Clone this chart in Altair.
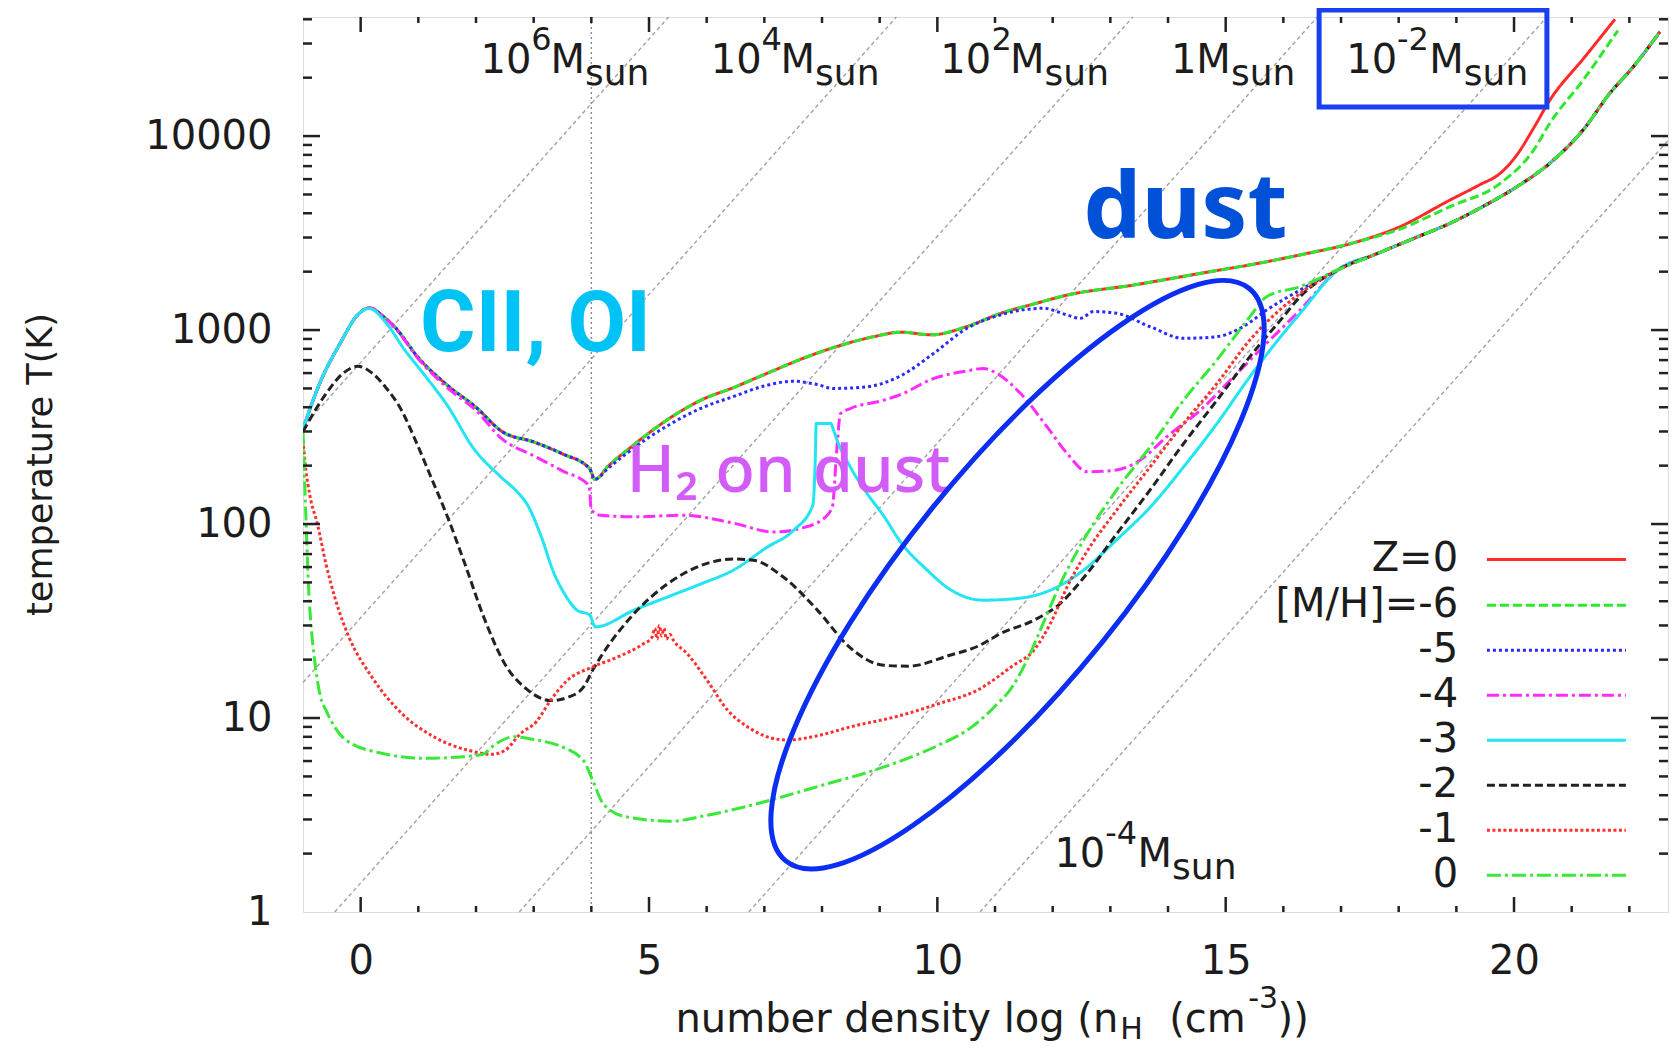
import altair as alt
import pandas as pd

# ---------------- axes ranges ----------------
XMIN, XMAX = -1.0, 22.67
YMIN, YMAX = 1.0, 41100.0

# ---------------- series styling ----------------
SERIES = ["Z=0", "[M/H]=-6", "-5", "-4", "-3", "-2", "-1", "0"]
COLORS = ["#ff2a2a", "#2ee82e", "#2b2bff", "#ff2cff", "#22e4f2", "#222222", "#ff3030", "#3ae83a"]
DASHES = [[1, 0], [9, 4], [3, 3], [12, 4, 3, 4], [1, 0], [8, 4], [3, 2.5], [14, 4, 3, 4]]
WIDTHS = [3, 3, 3, 3, 3.5, 3.5, 2.5, 3]

# ---------------- curve data (log n_H, T) ----------------
LOWER_X = [16.95, 17.6, 18.3, 18.89, 19.5, 20.05, 20.62, 21.2, 21.66, 22.07, 22.53]
LOWER_T = [2046, 2460, 3000, 3550, 4400, 5480, 7240, 10770, 16600, 22800, 34500]

Z0_X = [-1.0, -0.7, -0.35, -0.05, 0.15, 0.4, 0.6, 1.0, 1.5, 2.0, 2.45, 3.0, 3.5, 3.97, 4.06, 4.3, 4.62,
        5.0, 5.35, 5.9, 6.5, 7.0, 7.7, 8.3, 8.9, 9.36, 9.9, 10.5, 11.1, 11.7, 12.25, 13.4, 14.56,
        15.71, 16.29, 17.26, 18.0, 18.89, 19.4, 19.76, 20.05, 20.34, 20.62, 21.2, 21.75]
Z0_T = [310, 540, 860, 1200, 1300, 1170, 1030, 720, 520, 400, 300, 265, 230, 193, 170, 200, 240,
        295, 350, 435, 510, 590, 720, 830, 925, 975, 945, 1040, 1220, 1370, 1514, 1706, 1960,
        2250, 2440, 2840, 3390, 4680, 5600, 6430, 8000, 11000, 15300, 25000, 40000]

M6_X = [-1.0, -0.7, -0.35, -0.05, 0.15, 0.4, 0.6, 1.0, 1.5, 2.0, 2.45, 3.0, 3.5, 3.97, 4.06, 4.3, 4.62,
        5.0, 5.35, 5.9, 6.5, 7.0, 7.7, 8.3, 8.9, 9.36, 9.9, 10.5, 11.1, 11.7, 12.25, 13.4, 14.56,
        15.71, 16.29, 17.26, 18.0, 18.89, 19.76, 20.34, 20.62, 21.2, 21.8]
M6_T = [310, 540, 860, 1200, 1300, 1170, 1030, 720, 520, 400, 300, 265, 230, 193, 170, 200, 240,
        295, 350, 435, 510, 590, 720, 830, 925, 975, 945, 1040, 1220, 1370, 1514, 1706, 1960,
        2250, 2440, 2840, 3300, 4330, 5700, 8470, 11640, 19460, 35000]

M5_X = [-1.0, -0.7, -0.35, -0.05, 0.15, 0.4, 0.6, 1.0, 1.5, 2.0, 2.45, 3.0, 3.5, 3.97, 4.06, 4.3, 4.62,
        5.0, 5.35, 5.9, 6.47, 7.0, 7.5, 7.9, 8.2, 8.78, 9.36, 9.94, 10.51, 11.09, 11.84, 12.25,
        12.48, 12.71, 13.11, 13.69, 14.27, 14.85, 15.3, 15.71, 16.29]
M5_T = [310, 540, 860, 1200, 1300, 1170, 1030, 720, 520, 400, 300, 265, 230, 193, 170, 195, 232,
        280, 325, 395, 455, 515, 545, 525, 500, 510, 580, 760, 1020, 1196, 1295, 1196,
        1150, 1245, 1220, 1040, 906, 925, 1040, 1268, 1607]

M4_X = [-1.0, -0.7, -0.35, -0.05, 0.15, 0.4, 0.6, 1.0, 1.5, 2.0, 2.45, 3.0, 3.5, 3.96, 4.0, 4.16,
        4.74, 5.6, 6.47, 7.16, 7.63, 8.05, 8.18, 8.26, 8.32, 8.49, 9.07, 9.36, 9.94, 10.5, 10.8,
        11.03, 11.44, 11.9, 12.25, 12.6, 13.11, 13.52, 13.98, 14.56, 15.14, 15.71, 16.29]
M4_T = [310, 540, 860, 1200, 1300, 1170, 1020, 710, 505, 385, 275, 225, 188, 158, 118, 111,
        109, 111, 101, 91, 95, 108, 123, 250, 371, 394, 435, 465, 563, 615, 634,
        598, 472, 318, 231, 186, 190, 214, 282, 386, 575, 855, 1268]

M3_X = [-1.0, -0.7, -0.35, -0.05, 0.15, 0.45, 0.75, 1.1, 1.5, 1.96, 2.43, 2.7, 2.89, 3.12, 3.35,
        3.55, 3.75, 3.97, 4.07, 4.74, 5.315, 5.89, 6.47, 7.05, 7.51, 7.84, 7.88, 7.9, 8.15, 8.2,
        8.26, 8.49, 8.78, 9.07, 9.36, 9.82, 10.22, 10.8, 11.38, 11.96, 12.54, 13.11, 13.69,
        14.27, 14.85, 15.42, 16.0, 16.29]
M3_T = [310, 540, 860, 1200, 1290, 1080, 800, 590, 410, 245, 175, 148, 126, 88, 56,
        43, 36, 34, 29.5, 36, 42, 49, 58, 76, 93, 125, 200, 330, 330, 305,
        271, 197, 144, 110, 81, 58, 46, 40.5, 41.3, 45.6, 58, 83, 122,
        197, 330, 575, 961, 1218]

M2_X = [-1.0, -0.6, -0.3, -0.05, 0.2, 0.45, 0.7, 0.95, 1.2, 1.5, 1.81, 2.12, 2.5, 2.89, 3.3, 3.6,
        3.87, 4.02, 4.16, 4.74, 5.315, 5.89, 6.47, 6.81, 7.34, 7.92, 8.49, 9.07, 9.5, 10.2, 10.71,
        11.09, 11.67, 12.13, 12.54, 13.11, 13.69, 14.27, 14.85, 15.42, 16.0, 16.29]
M2_T = [300, 470, 600, 650, 600, 500, 390, 270, 180, 110, 62, 34, 19, 14, 12.3, 12.8,
        14.5, 17.6, 20.6, 34.5, 49, 61, 66, 65, 53, 36, 23, 18.7, 18.5, 21, 23.5,
        27.2, 31.9, 38.9, 53, 89, 150, 260, 435, 729, 1172, 1486]

M1_X = [-1.0, -0.95, -0.88, -0.75, -0.6, -0.45, -0.2, 0.18, 0.72, 1.27, 1.88, 2.27, 2.5, 2.77,
        3.05, 3.29, 3.58, 4.016, 4.45, 4.91, 5.05, 5.1, 5.14, 5.18, 5.22, 5.26, 5.3, 5.36, 5.43,
        5.66, 6.01, 6.36, 6.71, 7.05, 7.39, 7.92, 8.49, 9.36, 10.0, 10.71, 11.31, 11.67, 11.96,
        12.25, 12.54, 13.11, 13.69, 14.27, 14.85, 15.42, 16.0, 16.3]
M1_T = [270, 190, 140, 100, 62, 42, 26, 16.5, 10.5, 8.0, 6.8, 6.5, 6.8, 8.3,
        9.6, 12.3, 15.6, 18.3, 20.6, 24.2, 26, 29, 25.5, 30, 26.5, 29, 25.5, 27, 25,
        21.5, 15.6, 11, 9.0, 8.0, 7.7, 8.1, 9.0, 10.3, 11.8, 14, 18.6, 22.3, 30.7,
        47.4, 68, 118, 197, 330, 531, 889, 1318, 1550]

P0_X = [-1.0, -0.97, -0.94, -0.9, -0.86, -0.8, -0.7, -0.59, -0.28, 0.34, 1.11, 1.73, 2.12, 2.3,
        2.66, 3.05, 3.44, 3.87, 4.02, 4.21, 4.59, 5.37, 6.0, 7.0, 8.0, 9.0, 10.0, 10.6, 11.0,
        11.3, 11.56, 11.84, 12.13, 12.54, 13.11, 13.69, 14.27, 14.85, 15.42, 15.71, 16.29]
P0_T = [300, 160, 90, 45, 30, 20, 13, 10.8, 7.8, 6.6, 6.2, 6.3, 6.5, 7.2,
        8.0, 7.7, 7.2, 6.0, 4.8, 3.6, 3.1, 2.94, 3.15, 3.7, 4.5, 5.5, 7.2, 9.0, 11.5,
        14.5, 20, 31, 49, 83, 150, 250, 435, 702, 1172, 1486, 1675]

CURVES = [
    (Z0_X, Z0_T, False),
    (M6_X, M6_T, False),
    (M5_X, M5_T, True),
    (M4_X, M4_T, True),
    (M3_X, M3_T, True),
    (M2_X, M2_T, True),
    (M1_X, M1_T, True),
    (P0_X, P0_T, True),
]

# ---------------- Jeans-mass guide lines (end points) ----------------
JEANS_X1 = [-1.0, -1.0, -0.45, 2.75, 6.73, 10.74]
JEANS_T1 = [316.2, 15.25, 1.0, 1.0, 1.0, 1.0]
JEANS_X2 = [5.34, 9.29, 13.39, 16.59, 20.57, 22.67]
JEANS_T2 = [41100, 41100, 41100, 41100, 41100, 9480]

# mass labels: "10" + superscript + "M" + subscript "sun"
MASS_MAIN_TEXT = ["10", "10", "10", "1", "10", "10", "M", "M", "M", "M", "M", "M"]
MASS_MAIN_X = [2.08, 6.07, 10.05, 14.05, 17.09, 12.03, 3.29, 7.28, 11.26, 14.49, 18.53, 13.47]
MASS_MAIN_T = [21030, 21030, 21030, 21030, 21030, 1.70, 21030, 21030, 21030, 21030, 21030, 1.70]
MASS_SUP_TEXT = ["6", "4", "2", "-2", "-4"]
MASS_SUP_X = [2.96, 6.95, 10.94, 17.97, 12.91]
MASS_SUP_T = [21030, 21030, 21030, 21030, 1.70]
MASS_SUB_X = [3.89, 7.88, 11.86, 15.09, 19.13, 14.07]
MASS_SUB_T = [21030, 21030, 21030, 21030, 21030, 1.70]

# ticks
XT_MAJOR = [0, 5, 10, 15, 20]
XT_MINOR = [1, 2, 3, 4, 6, 7, 8, 9, 11, 12, 13, 14, 16, 17, 18, 19, 21, 22]
YT_MAJOR = [10, 100, 1000, 10000]
YT_MINOR = [2, 3, 4, 5, 6, 7, 8, 9, 20, 30, 40, 50, 60, 70, 80, 90,
            200, 300, 400, 500, 600, 700, 800, 900, 2000, 3000, 4000, 5000, 6000, 7000, 8000, 9000,
            20000, 30000, 40000]

# legend placement (in data units)
LEG_LABEL_X = 19.03
LEG_X1, LEG_X2 = 19.53, 21.94
LEG_T = [65.7, 38.17, 22.37, 13.11, 7.684, 4.503, 2.639, 1.546]

# x-axis title pieces
XT_MAIN = ["number density log (n", "(cm", "))"]
XT_MAIN_X = [5.459, 14.02, 15.9]
XT_SUB_X = 13.17
XT_SUP_X = 15.39
XT_T = 0.2403

# annotations
ELLIPSE_CENTER = (11.39, 54.8)
BOX_X = (16.62, 20.57)
BOX_T = (14130, 44670)

# ---------------- build tables ----------------
rows = []
for name, (xs, ts, tail) in zip(SERIES, CURVES):
    xx = list(xs) + (LOWER_X if tail else [])
    tt = list(ts) + (LOWER_T if tail else [])
    for i, (a, b) in enumerate(zip(xx, tt)):
        rows.append({"s": name, "x": a, "T": b, "i": i})
curves_df = pd.DataFrame(rows)

XS = alt.Scale(domain=[XMIN, XMAX], nice=False, zero=False)
YS = alt.Scale(type="log", domain=[YMIN, YMAX], nice=False)
FONT = "DejaVu Sans"
INK = "#1c1c1c"
XAXIS = alt.Axis(values=XT_MAJOR, format="d", title=None, ticks=False, domain=False, grid=False,
                 labelFont=FONT, labelFontSize=40, labelColor=INK, labelPadding=29,
                 labelFlush=False, labelOverlap=False)
YAXIS = alt.Axis(values=[1, 10, 100, 1000, 10000], format="d", title="temperature T(K)",
                 ticks=False, domain=False, grid=False, labelFont=FONT, labelFontSize=40,
                 labelColor=INK, labelPadding=31, labelOverlap=False, labelFlush=False,
                 titleX=-263, titleY=447, titleAngle=270, titleAlign="center",
                 titleBaseline="middle", titleFont=FONT, titleFontSize=35,
                 titleFontWeight="normal", titleColor=INK)


def X(f):
    return alt.X(f, type="quantitative", scale=XS, axis=XAXIS)


def Y(f):
    return alt.Y(f, type="quantitative", scale=YS, axis=YAXIS)


COLOR = alt.Color("s:N", scale=alt.Scale(domain=SERIES, range=COLORS), legend=None)
DASH = alt.StrokeDash("s:N", scale=alt.Scale(domain=SERIES, range=DASHES), legend=None)
SW = alt.StrokeWidth("s:N", scale=alt.Scale(domain=SERIES, range=WIDTHS), legend=None)

layers = []

# Jeans lines
jeans_df = pd.DataFrame({"x": JEANS_X1, "T": JEANS_T1, "x2": JEANS_X2, "T2": JEANS_T2})
layers.append(alt.Chart(jeans_df).mark_rule(color="#a3a3a3", strokeDash=[4, 3], strokeWidth=1.4)
              .encode(x=X("x"), y=Y("T"), x2="x2:Q", y2="T2:Q"))

# vertical dotted line at log n = 4
layers.append(alt.Chart(pd.DataFrame({"x": [4.0]})).mark_rule(color="#8a8a8a", strokeDash=[2, 3], strokeWidth=1.4)
              .encode(x=X("x")))

# curves
layers.append(alt.Chart(curves_df).mark_line(interpolate="monotone", clip=True)
              .encode(x=X("x"), y=Y("T"), color=COLOR, strokeDash=DASH, strokeWidth=SW,
                      order="i:Q"))

# tick marks (pointing inwards)
PH, PW = 895, 1365
TICK = dict(color="#222222", strokeWidth=2.5)
xmaj = pd.DataFrame({"x": XT_MAJOR})
xmin = pd.DataFrame({"x": XT_MINOR})
ymaj = pd.DataFrame({"T": YT_MAJOR})
ymin = pd.DataFrame({"T": YT_MINOR})
layers.append(alt.Chart(xmaj).mark_rule(**TICK).encode(x=X("x"), y=alt.value(PH), y2=alt.value(PH - 15)))
layers.append(alt.Chart(xmin).mark_rule(**TICK).encode(x=X("x"), y=alt.value(PH), y2=alt.value(PH - 6)))
layers.append(alt.Chart(xmaj).mark_rule(**TICK).encode(x=X("x"), y=alt.value(0), y2=alt.value(15)))
layers.append(alt.Chart(xmin).mark_rule(**TICK).encode(x=X("x"), y=alt.value(0), y2=alt.value(6)))
layers.append(alt.Chart(ymaj).mark_rule(**TICK).encode(y=Y("T"), x=alt.value(0), x2=alt.value(17)))
layers.append(alt.Chart(ymin).mark_rule(**TICK).encode(y=Y("T"), x=alt.value(0), x2=alt.value(9)))
layers.append(alt.Chart(ymaj).mark_rule(**TICK).encode(y=Y("T"), x=alt.value(PW), x2=alt.value(PW - 17)))
layers.append(alt.Chart(ymin).mark_rule(**TICK).encode(y=Y("T"), x=alt.value(PW), x2=alt.value(PW - 9)))

# legend
leg_df = pd.DataFrame({"s": SERIES, "T": LEG_T, "x": [LEG_X1] * 8, "x2": [LEG_X2] * 8,
                       "lx": [LEG_LABEL_X] * 8})
layers.append(alt.Chart(leg_df).mark_rule()
              .encode(x=X("x"), x2="x2:Q", y=Y("T"), color=COLOR, strokeDash=DASH, strokeWidth=SW))
layers.append(alt.Chart(leg_df).mark_text(font=FONT, fontSize=40, align="right", baseline="middle", color=INK)
              .encode(x=X("lx"), y=Y("T"), text="s:N"))

# mass labels
main_df = pd.DataFrame({"t": MASS_MAIN_TEXT, "x": MASS_MAIN_X, "T": MASS_MAIN_T})
sup_df = pd.DataFrame({"t": MASS_SUP_TEXT, "x": MASS_SUP_X, "T": MASS_SUP_T})
sub_df = pd.DataFrame({"t": ["sun"] * 6, "x": MASS_SUB_X, "T": MASS_SUB_T})
layers.append(alt.Chart(main_df).mark_text(font=FONT, fontSize=40, align="left", baseline="alphabetic", color=INK)
              .encode(x=X("x"), y=Y("T"), text="t:N"))
layers.append(alt.Chart(sup_df).mark_text(font=FONT, fontSize=32, align="left", baseline="alphabetic", color=INK, dy=-23)
              .encode(x=X("x"), y=Y("T"), text="t:N"))
layers.append(alt.Chart(sub_df).mark_text(font=FONT, fontSize=36, align="left", baseline="alphabetic", color=INK, dy=12)
              .encode(x=X("x"), y=Y("T"), text="t:N"))

# x-axis title composed of pieces
layers.append(alt.Chart(pd.DataFrame({"t": XT_MAIN, "x": XT_MAIN_X, "T": [XT_T] * 3}))
              .mark_text(font=FONT, fontSize=40, align="left", baseline="alphabetic", color=INK)
              .encode(x=X("x"), y=Y("T"), text="t:N"))
layers.append(alt.Chart(pd.DataFrame({"t": ["H"], "x": [XT_SUB_X], "T": [XT_T]}))
              .mark_text(font=FONT, fontSize=30, align="left", baseline="alphabetic", color=INK, dy=7)
              .encode(x=X("x"), y=Y("T"), text="t:N"))
layers.append(alt.Chart(pd.DataFrame({"t": ["-3"], "x": [XT_SUP_X], "T": [XT_T]}))
              .mark_text(font=FONT, fontSize=30, align="left", baseline="alphabetic", color=INK, dy=-24)
              .encode(x=X("x"), y=Y("T"), text="t:N"))

# annotations
layers.append(alt.Chart(pd.DataFrame({"t": ["CII, OI"], "x": [1.031], "T": [780]}))
              .mark_text(font="Roboto", fontWeight="bold", fontSize=85, align="left", baseline="alphabetic", color="#00c3f5")
              .encode(x=X("x"), y=Y("T"), text="t:N"))
layers.append(alt.Chart(pd.DataFrame({"t": ["H₂ on dust"], "x": [4.61], "T": [146]}))
              .mark_text(font="Noto Sans", fontWeight=500, fontSize=65, align="left", baseline="alphabetic", color="#d25cf7")
              .encode(x=X("x"), y=Y("T"), text="t:N"))
layers.append(alt.Chart(pd.DataFrame({"t": ["dust"], "x": [12.53], "T": [2995]}))
              .mark_text(font="Noto Sans", fontWeight="bold", fontSize=92, align="left", baseline="alphabetic", color="#0050d8")
              .encode(x=X("x"), y=Y("T"), text="t:N"))

ELLIPSE_PATH = "M -1 0 A 1 0.294 0 1 0 1 0 A 1 0.294 0 1 0 -1 0 Z"
layers.append(alt.Chart(pd.DataFrame({"x": [ELLIPSE_CENTER[0]], "T": [ELLIPSE_CENTER[1]]}))
              .mark_point(shape=ELLIPSE_PATH, filled=False, stroke="#0b2ef2", color="#0b2ef2",
                          strokeWidth=5, opacity=1, size=542579, angle=309)
              .encode(x=X("x"), y=Y("T")))
layers.append(alt.Chart(pd.DataFrame({"x": [BOX_X[0]], "x2": [BOX_X[1]], "T": [BOX_T[0]], "T2": [BOX_T[1]]}))
              .mark_rect(filled=False, stroke="#1a3ff0", strokeWidth=5)
              .encode(x=X("x"), x2="x2:Q", y=Y("T"), y2="T2:Q"))

chart = (alt.layer(*layers)
         .properties(width=PW, height=PH,
                     padding={"left": 295, "top": 9, "right": 2, "bottom": 133},
                     autosize=alt.AutoSizeParams(type="none"),
                     background="white")
         .configure_view(stroke="#1a1a1a", strokeWidth=3.5)
         .configure(font=FONT))

chart.save("out.html", embed_options={"renderer": "svg", "actions": False})
